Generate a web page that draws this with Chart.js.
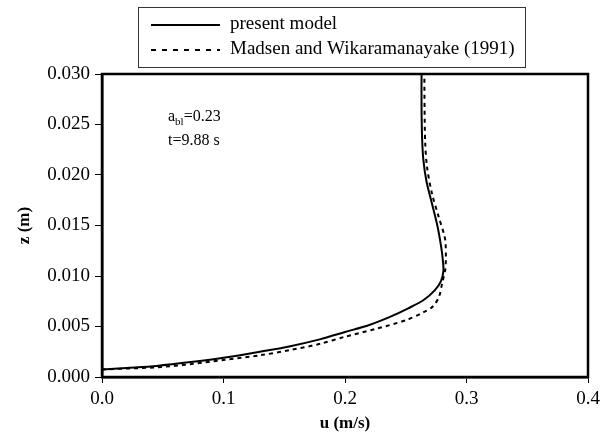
<!DOCTYPE html>
<html>
<head>
<meta charset="utf-8">
<script src="https://cdn.jsdelivr.net/npm/chart.js@4.4.1/dist/chart.umd.min.js"></script>
<style>
  html, body { margin: 0; padding: 0; background: #fff; }
  #wrap { width: 602px; height: 440px; }
</style>
</head>
<body>
<div id="wrap"><canvas id="chart" width="602" height="440"></canvas></div>
<script>
// velocity profile: u (m/s) against height z (m)
const modelU = [0.000, 0.020, 0.045, 0.075, 0.100, 0.130, 0.155, 0.180, 0.200, 0.220, 0.237, 0.252, 0.265, 0.274, 0.279, 0.281, 0.2805, 0.279, 0.276, 0.2715, 0.267, 0.2645, 0.2635, 0.263, 0.263];
const modelZ = [0.00075, 0.00090, 0.00110, 0.00150, 0.00190, 0.00250, 0.00305, 0.00375, 0.00445, 0.00515, 0.00595, 0.00680, 0.00765, 0.00860, 0.00950, 0.01050, 0.01160, 0.01300, 0.01500, 0.01720, 0.01940, 0.02150, 0.02350, 0.02650, 0.03000];

const madsenU = [0.000, 0.045, 0.075, 0.100, 0.130, 0.155, 0.180, 0.200, 0.225, 0.2505, 0.2645, 0.2725, 0.2775, 0.2800, 0.2825, 0.2830, 0.2828, 0.2818, 0.2770, 0.2715, 0.2675, 0.2660, 0.2655, 0.2653];
const madsenZ = [0.00075, 0.00096, 0.00130, 0.00168, 0.00215, 0.00267, 0.00330, 0.00399, 0.00475, 0.00564, 0.00640, 0.00700, 0.00800, 0.00930, 0.01060, 0.01160, 0.01320, 0.01400, 0.01590, 0.01820, 0.02080, 0.02320, 0.02650, 0.03000];

const xTicks = [0.0, 0.1, 0.2, 0.3, 0.4];
const yTicks = [0.000, 0.005, 0.010, 0.015, 0.020, 0.025, 0.030];

const seriesNames = ['present model', 'Madsen and Wikaramanayake (1991)'];

const SERIF = '"Liberation Serif", "DejaVu Serif", serif';

const toPoints = (us, zs) => us.map((u, i) => ({ x: u, y: zs[i] }));

// box round the plot, legend box on top, and the parameter note
const framePlugin = {
  id: 'frame',
  afterDraw(chart) {
    const { ctx, chartArea: a } = chart;
    ctx.save();
    ctx.strokeStyle = '#000';
    ctx.lineWidth = 2.5;
    ctx.strokeRect(a.left, a.top, a.right - a.left, a.bottom - a.top);

    // legend
    ctx.lineWidth = 1;
    ctx.strokeStyle = '#333';
    ctx.strokeRect(138.5, 7.5, 387, 60);
    ctx.strokeStyle = '#000';
    ctx.lineWidth = 2;
    ctx.beginPath();
    ctx.moveTo(151, 25);
    ctx.lineTo(220, 25);
    ctx.stroke();
    ctx.setLineDash([5, 6]);
    ctx.beginPath();
    ctx.moveTo(151, 50);
    ctx.lineTo(220, 50);
    ctx.stroke();
    ctx.setLineDash([]);
    ctx.fillStyle = '#000';
    ctx.font = '19px ' + SERIF;
    ctx.textBaseline = 'middle';
    ctx.textAlign = 'left';
    ctx.fillText(seriesNames[0], 230, 24);
    ctx.fillText(seriesNames[1], 230, 49);

    // note
    ctx.font = '16px ' + SERIF;
    ctx.textBaseline = 'alphabetic';
    ctx.fillText('a', 168, 121);
    const aw = ctx.measureText('a').width;
    ctx.font = '11px ' + SERIF;
    ctx.fillText('bl', 168 + aw, 125);
    const bw = ctx.measureText('bl').width;
    ctx.font = '16px ' + SERIF;
    ctx.fillText('=0.23', 168 + aw + bw, 121);
    ctx.fillText('t=9.88 s', 168, 145);
    ctx.restore();
  }
};

new Chart(document.getElementById('chart'), {
  type: 'scatter',
  data: {
    datasets: [
      {
        label: seriesNames[0],
        data: toPoints(modelU, modelZ),
        showLine: true,
        borderColor: '#000',
        borderWidth: 2,
        pointRadius: 0,
        tension: 0.3
      },
      {
        label: seriesNames[1],
        data: toPoints(madsenU, madsenZ),
        showLine: true,
        borderColor: '#000',
        borderWidth: 2,
        borderDash: [4, 4],
        pointRadius: 0,
        tension: 0.3
      }
    ]
  },
  options: {
    responsive: false,
    animation: false,
    layout: { padding: { top: 74, right: 14, left: 0, bottom: 0 } },
    plugins: {
      legend: { display: false },
      tooltip: { enabled: false }
    },
    scales: {
      x: {
        type: 'linear',
        min: 0,
        max: 0.4,
        afterBuildTicks: axis => { axis.ticks = xTicks.map(v => ({ value: v })); },
        afterFit: axis => {
          axis.height = 63;
          // let the last label hang over the right margin
          axis.paddingLeft = 0;
          axis.paddingRight = 0;
        },
        ticks: {
          color: '#000',
          font: { family: SERIF, size: 19 },
          padding: 5,
          callback: v => v.toFixed(1)
        },
        grid: { display: true, drawOnChartArea: false, drawTicks: true, tickLength: 6, color: '#000', lineWidth: 1 },
        border: { display: true, color: '#000', width: 2.5 },
        title: {
          display: true,
          text: 'u (m/s)',
          color: '#000',
          font: { family: SERIF, size: 17, weight: 'bold' },
          padding: { top: 0, bottom: 6 }
        }
      },
      y: {
        type: 'linear',
        min: 0,
        max: 0.03,
        afterBuildTicks: axis => { axis.ticks = yTicks.map(v => ({ value: v })); },
        afterFit: axis => { axis.width = 102; },
        ticks: {
          color: '#000',
          font: { family: SERIF, size: 19 },
          padding: 5,
          callback: v => v.toFixed(3)
        },
        grid: { display: true, drawOnChartArea: false, drawTicks: true, tickLength: 7, color: '#000', lineWidth: 1 },
        border: { display: true, color: '#000', width: 2.5 },
        title: {
          display: true,
          text: 'z (m)',
          color: '#000',
          font: { family: SERIF, size: 17, weight: 'bold' },
          padding: { top: 14, bottom: 0 }
        }
      }
    }
  },
  plugins: [framePlugin]
});
</script>
</body>
</html>
